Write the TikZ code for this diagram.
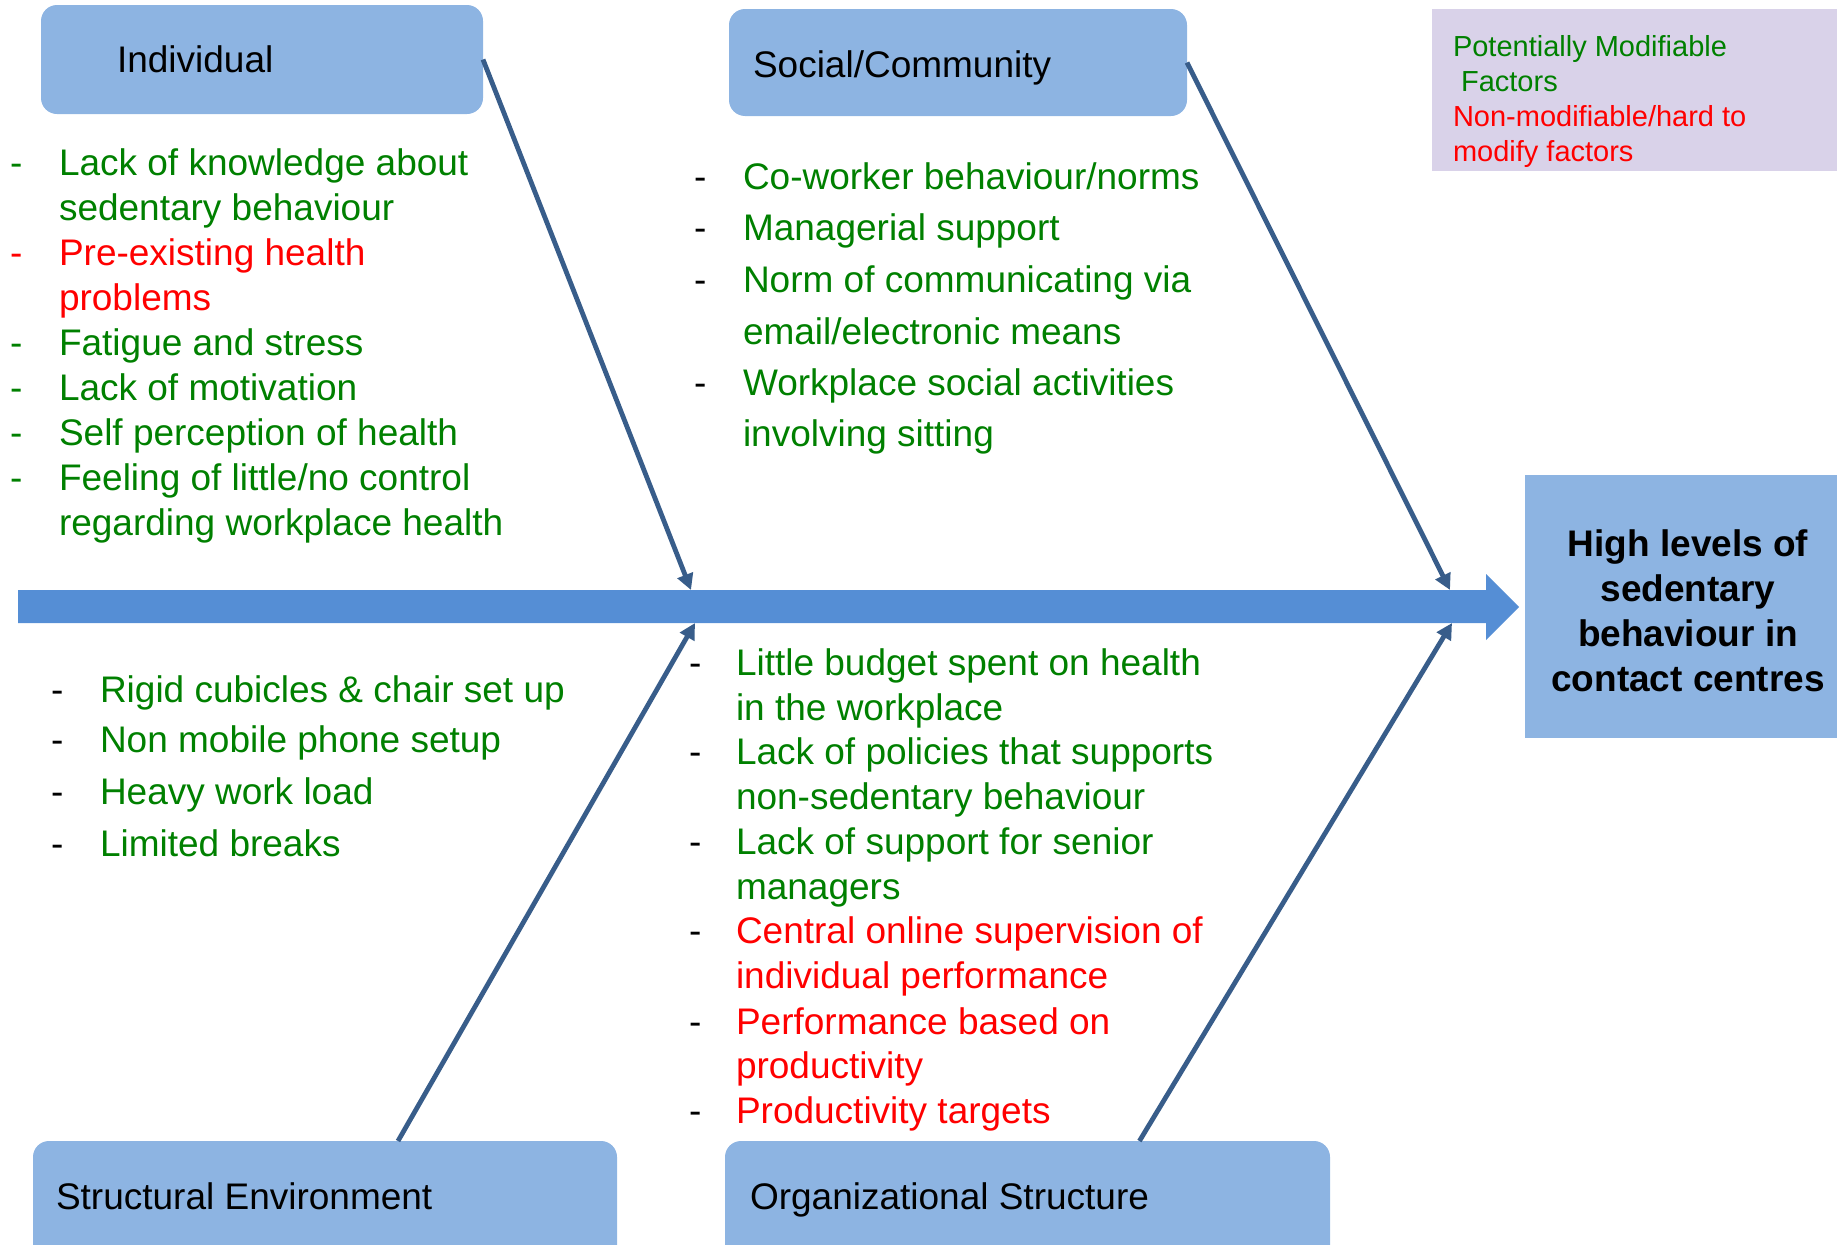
\documentclass[tikz,border=0pt]{standalone}
\usepackage{fontspec}
\setmainfont{Liberation Sans}
\usetikzlibrary{arrows.meta,calc}

\definecolor{boxblue}{RGB}{141,180,226}
\definecolor{spineblue}{RGB}{85,142,213}
\definecolor{bonecol}{RGB}{56,93,138}
\definecolor{modgreen}{RGB}{0,128,0}
\definecolor{hardred}{RGB}{255,0,0}
\definecolor{legendbg}{RGB}{217,210,233}

\begin{document}
\begin{tikzpicture}[x=1pt,y=-1pt,
  every node/.style={inner sep=0pt, outer sep=0pt},
  catbox/.style={fill=boxblue, rounded corners=16pt, anchor=north west},
  title/.style={anchor=base west, font=\fontsize{37}{44}\selectfont, text=black},
  ln/.style={anchor=base west, font=\fontsize{37}{44}\selectfont},
  gl/.style={ln, text=modgreen},
  rl/.style={ln, text=hardred},
  dsh/.style={ln, text=black},
  lg/.style={anchor=base west, font=\fontsize{29}{35}\selectfont},
  bonearrow/.style={draw=bonecol, line width=4.8pt,
    -{Triangle[length=16pt,width=16pt]}}
]
\useasboundingbox (0,0) rectangle (1837,1245);
\clip (0,0) rectangle (1837,1245);

% category boxes
\node[catbox, minimum width=442pt, minimum height=109pt] (indiv) at (41,5) {};
\node[catbox, minimum width=458pt, minimum height=107pt] (social) at (729,9) {};
\node[catbox, minimum width=584pt, minimum height=160pt] (struct) at (33,1141) {};
\node[catbox, minimum width=605pt, minimum height=160pt] (org) at (725,1141) {};

\node[title] (indiv-t) at (117,72) {Individual};
\node[title] (social-t) at (753,77) {Social/Community};
\node[title] (struct-t) at (56,1209) {Structural Environment};
\node[title] (org-t) at (750,1209) {Organizational Structure};

% legend
\node[fill=legendbg, anchor=north west, minimum width=420pt, minimum height=162pt] (legend) at (1432,9) {};
\node[lg, text=modgreen] (lg1) at (1453,56) {Potentially Modifiable};
\node[lg, text=modgreen] (lg2) at (1453,91) {\ Factors};
\node[lg, text=hardred] (lg3) at (1453,126) {Non-modifiable/hard to};
\node[lg, text=hardred] (lg4) at (1453,161) {modify factors};

% effect box
\node[fill=boxblue, minimum width=330pt, minimum height=263pt, anchor=north west] (effect) at (1525,475) {};
\node[align=center, font=\bfseries\fontsize{37}{45}\selectfont] (effect-t) at (1688,611)
  {High levels of\\sedentary\\behaviour in\\contact centres};

% spine
\fill[spineblue] (18,590) -- (1486,590) -- (1486,574) -- (1519,607) -- (1486,640)
  -- (1486,623) -- (18,623) -- cycle;
\coordinate (s-ind) at (691,590);
\coordinate (s-soc) at (1450,590);
\coordinate (s-str) at (695,623);
\coordinate (s-org) at (1452,623);

% bones
\draw[bonearrow] (indiv.east) -- (s-ind);
\draw[bonearrow] (social.east) -- (s-soc);
\draw[bonearrow] ($(struct.north west)!0.625!(struct.north east)$) -- (s-str);
\draw[bonearrow] ($(org.north west)!0.685!(org.north east)$) -- (s-org);

% individual factors
\node[gl] (i1d) at (10,175) {-};
\node[gl] (i1a) at (59,175) {Lack of knowledge about};
\node[gl] (i1b) at (59,220) {sedentary behaviour};
\node[rl] (i2d) at (10,265) {-};
\node[rl] (i2a) at (59,265) {Pre-existing health};
\node[rl] (i2b) at (59,310) {problems};
\node[gl] (i3d) at (10,355) {-};
\node[gl] (i3a) at (59,355) {Fatigue and stress};
\node[gl] (i4d) at (10,400) {-};
\node[gl] (i4a) at (59,400) {Lack of motivation};
\node[gl] (i5d) at (10,445) {-};
\node[gl] (i5a) at (59,445) {Self perception of health};
\node[gl] (i6d) at (10,490) {-};
\node[gl] (i6a) at (59,490) {Feeling of little/no control};
\node[gl] (i6b) at (59,535) {regarding workplace health};

% social factors
\node[dsh] (c1d) at (694,189) {-};
\node[gl] (c1a) at (743,189) {Co-worker behaviour/norms};
\node[dsh] (c2d) at (694,240) {-};
\node[gl] (c2a) at (743,240) {Managerial support};
\node[dsh] (c3d) at (694,292) {-};
\node[gl] (c3a) at (743,292) {Norm of communicating via};
\node[gl] (c3b) at (743,344) {email/electronic means};
\node[dsh] (c4d) at (694,395) {-};
\node[gl] (c4a) at (743,395) {Workplace social activities};
\node[gl] (c4b) at (743,446) {involving sitting};

% structural factors
\node[dsh] (e1d) at (51,702) {-};
\node[gl] (e1a) at (100,702) {Rigid cubicles \& chair set up};
\node[dsh] (e2d) at (51,752) {-};
\node[gl] (e2a) at (100,752) {Non mobile phone setup};
\node[dsh] (e3d) at (51,804) {-};
\node[gl] (e3a) at (100,804) {Heavy work load};
\node[dsh] (e4d) at (51,856) {-};
\node[gl] (e4a) at (100,856) {Limited breaks};

% organizational factors
\node[dsh] (o1d) at (689,675) {-};
\node[gl] (o1a) at (736,675) {Little budget spent on health};
\node[gl] (o1b) at (736,720) {in the workplace};
\node[dsh] (o2d) at (689,764) {-};
\node[gl] (o2a) at (736,764) {Lack of policies that supports};
\node[gl] (o2b) at (736,809) {non-sedentary behaviour};
\node[dsh] (o3d) at (689,854) {-};
\node[gl] (o3a) at (736,854) {Lack of support for senior};
\node[gl] (o3b) at (736,899) {managers};
\node[dsh] (o4d) at (689,943) {-};
\node[rl] (o4a) at (736,943) {Central online supervision of};
\node[rl] (o4b) at (736,988) {individual performance};
\node[dsh] (o5d) at (689,1034) {-};
\node[rl] (o5a) at (736,1034) {Performance based on};
\node[rl] (o5b) at (736,1078) {productivity};
\node[dsh] (o6d) at (689,1123) {-};
\node[rl] (o6a) at (736,1123) {Productivity targets};
\end{tikzpicture}
\end{document}
